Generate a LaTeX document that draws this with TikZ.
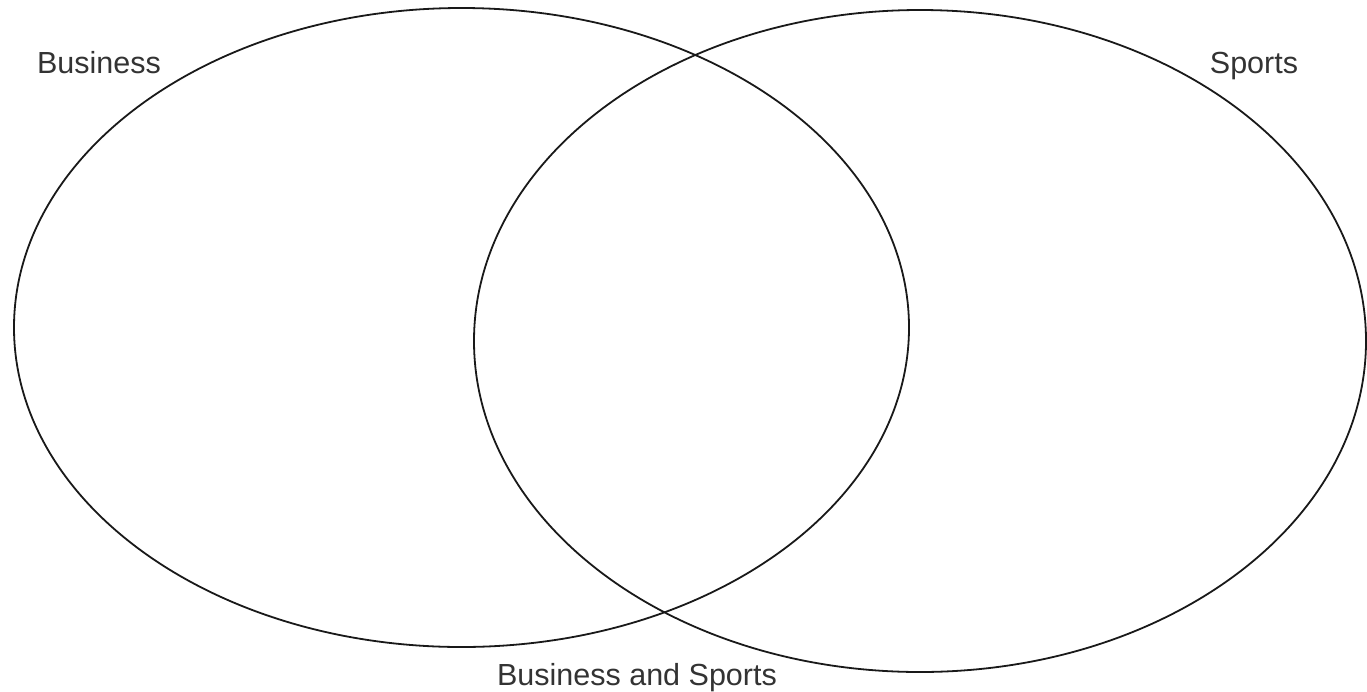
\documentclass[tikz,border=0pt]{standalone}
\usepackage{fontspec}
\setmainfont{Liberation Sans}
\begin{document}
\begin{tikzpicture}[x=1pt,y=-1pt,
  setline/.style={draw=black!90, line width=1.8pt},
  lbl/.style={text=black!80, font=\fontsize{30.5}{36}\selectfont, inner sep=0pt, anchor=base}]
\useasboundingbox (0,0) rectangle (1367,691);
\draw[setline] (461.5,327.5) ellipse [x radius=447.5, y radius=319.5];
\draw[setline] (920,341) ellipse [x radius=446, y radius=331];
\node[lbl] (business) at (99,73) {Business};
\node[lbl] (sports) at (1254,73) {Sports};
\node[lbl] (both) at (637,685) {Business and Sports};
\end{tikzpicture}
\end{document}
